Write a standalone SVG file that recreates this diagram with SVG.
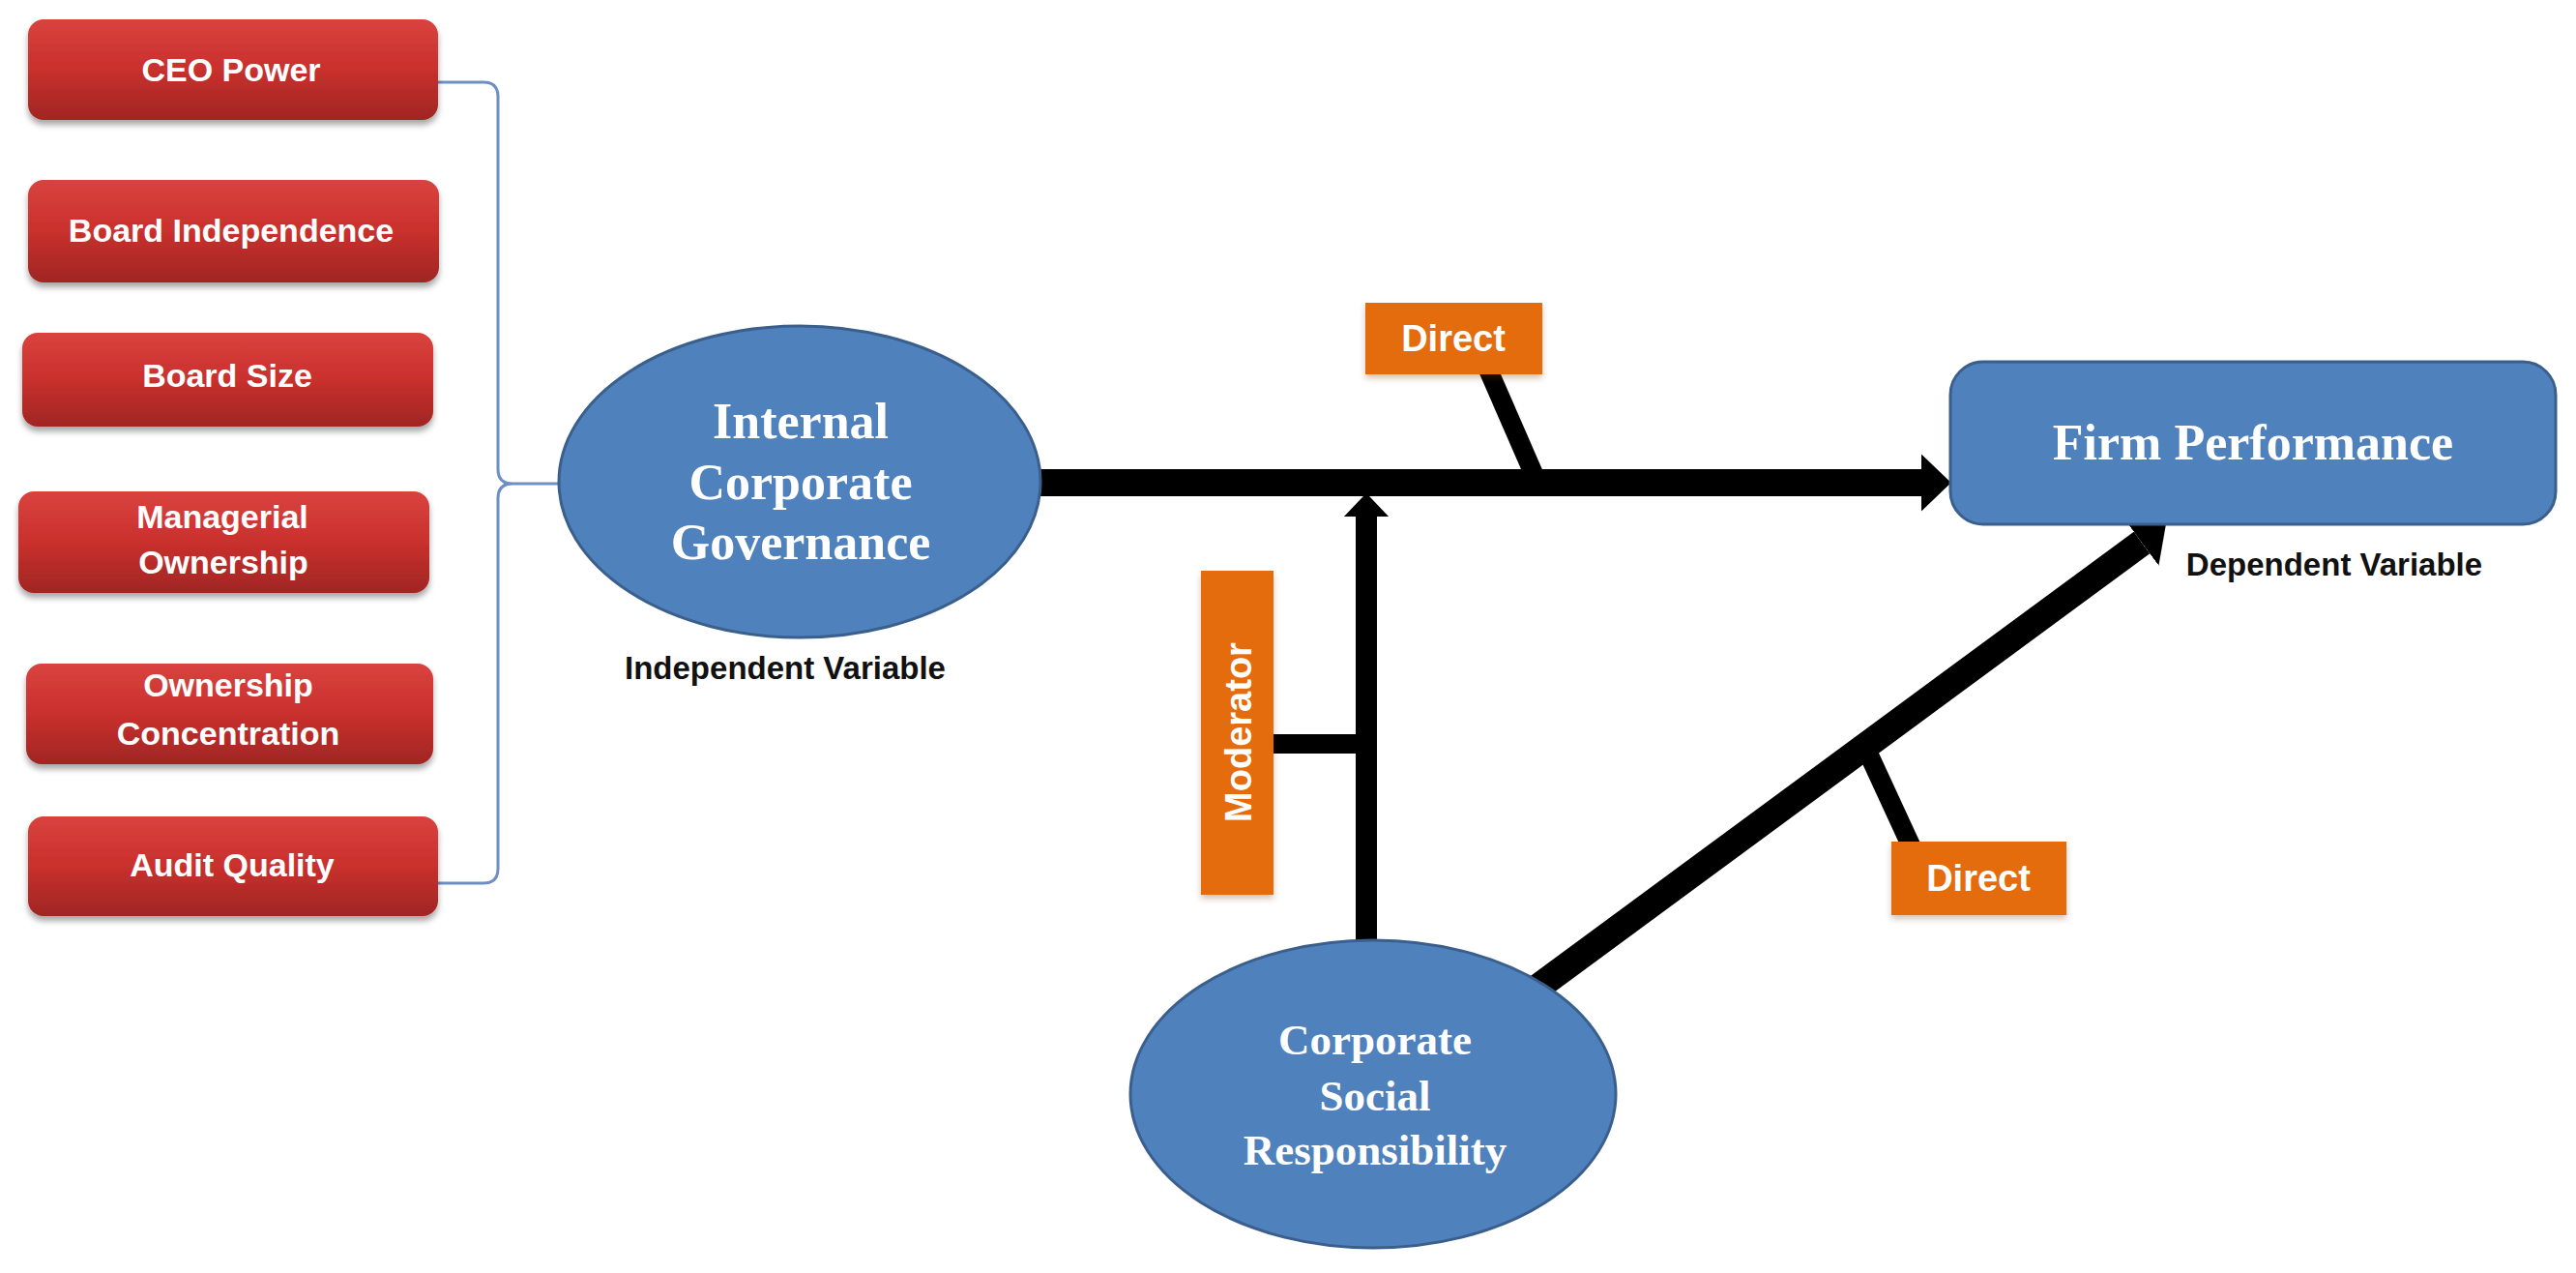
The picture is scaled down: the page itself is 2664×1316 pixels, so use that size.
<svg xmlns="http://www.w3.org/2000/svg" width="2664" height="1316" viewBox="0 0 2664 1316">
<defs>
<linearGradient id="redGrad" x1="0" y1="0" x2="0" y2="1">
<stop offset="0" stop-color="#d9433f"/>
<stop offset="0.5" stop-color="#c9302d"/>
<stop offset="1" stop-color="#a02623"/>
</linearGradient>
<filter id="shadow" x="-10%" y="-20%" width="120%" height="150%">
<feDropShadow dx="0" dy="5" stdDeviation="3" flood-color="#000" flood-opacity="0.35"/>
</filter>
<filter id="soft" x="-20%" y="-20%" width="140%" height="150%">
<feDropShadow dx="0" dy="4" stdDeviation="3" flood-color="#7a3a00" flood-opacity="0.3"/>
</filter>
<marker id="head" markerUnits="strokeWidth" viewBox="0 -1.1 1.1 2.2" markerWidth="1.1" markerHeight="2.2" refX="0" refY="0" orient="auto">
<path d="M0,-1.05 L1.1,0 L0,1.05 Z" fill="#000"/>
</marker>
</defs>
<style>
.red{fill:url(#redGrad);filter:url(#shadow)}
.rt{font-family:"Liberation Sans",Arial,sans-serif;font-weight:bold;font-size:34px;fill:#fff;text-anchor:middle}
.blue{fill:#4f81bd;stroke:#3a5f8c;stroke-width:3}
.st{font-family:"Liberation Serif","Times New Roman",serif;font-weight:bold;fill:#fff;text-anchor:middle}
.orange{fill:#e46c0a;filter:url(#soft)}
.ot{font-family:"Liberation Sans",Arial,sans-serif;font-weight:bold;font-size:38px;fill:#fff;text-anchor:middle}
.lbl{font-family:"Liberation Sans",Arial,sans-serif;font-weight:bold;font-size:33px;fill:#111;text-anchor:middle}
.conn{stroke:#000;fill:none;stroke-linecap:butt}
.brace{stroke:#6d8fc4;stroke-width:3;fill:none}
</style>
<rect width="2664" height="1316" fill="#ffffff"/>

<g id="connectors">
<path class="brace" d="M453,85 H500 Q515,85 515,100 V485 Q515,500 530,500 H580 M530,500 Q515,500 515,515 V898 Q515,913 500,913 H453"/>
<line class="conn" x1="1070" y1="499" x2="1987" y2="499" stroke-width="28" marker-end="url(#head)"/>
<line class="conn" x1="1413" y1="990" x2="1413" y2="534" stroke-width="22" marker-end="url(#head)"/>
<line class="conn" x1="1317" y1="769" x2="1413" y2="769" stroke-width="20"/>
<line class="conn" x1="1590" y1="1021" x2="2215" y2="561" stroke-width="28" marker-end="url(#head)"/>
<line class="conn" x1="1539" y1="382" x2="1590" y2="499" stroke-width="20"/>
<line class="conn" x1="1977" y1="876" x2="1929" y2="772" stroke-width="20"/>
</g>

<g id="ceo-power"><rect class="red" x="29" y="20" width="424" height="104" rx="16"/><text class="rt" x="239" y="84">CEO Power</text></g>
<g id="board-independence"><rect class="red" x="29" y="186" width="425" height="106" rx="16"/><text class="rt" x="239" y="250">Board Independence</text></g>
<g id="board-size"><rect class="red" x="23" y="344" width="425" height="97" rx="16"/><text class="rt" x="235" y="400">Board Size</text></g>
<g id="managerial-ownership"><rect class="red" x="19" y="508" width="425" height="105" rx="16"/><text class="rt" x="230" y="546">Managerial</text><text class="rt" x="231" y="593">Ownership</text></g>
<g id="ownership-concentration"><rect class="red" x="27" y="686" width="421" height="104" rx="16"/><text class="rt" x="236" y="720">Ownership</text><text class="rt" x="236" y="770">Concentration</text></g>
<g id="audit-quality"><rect class="red" x="29" y="844" width="424" height="103" rx="16"/><text class="rt" x="240" y="906">Audit Quality</text></g>

<g id="internal-corporate-governance">
<ellipse class="blue" cx="827" cy="498" rx="249" ry="161"/>
<text class="st" x="828" y="453" font-size="52">Internal</text>
<text class="st" x="828" y="516" font-size="52">Corporate</text>
<text class="st" x="828" y="578" font-size="52">Governance</text>
</g>
<g id="independent-variable-label"><text class="lbl" x="812" y="702">Independent Variable</text></g>

<g id="firm-performance">
<rect class="blue" x="2017" y="374" width="626" height="168" rx="34"/>
<text class="st" x="2330" y="475" font-size="52">Firm Performance</text>
</g>
<g id="dependent-variable-label"><text class="lbl" x="2414" y="595">Dependent Variable</text></g>

<g id="csr">
<ellipse class="blue" cx="1420" cy="1131" rx="251" ry="159"/>
<text class="st" x="1422" y="1090" font-size="45">Corporate</text>
<text class="st" x="1422" y="1148" font-size="45">Social</text>
<text class="st" x="1422" y="1204" font-size="45">Responsibility</text>
</g>

<g id="direct-top"><rect class="orange" x="1412" y="313" width="183" height="74"/><text class="ot" x="1503" y="363">Direct</text></g>
<g id="direct-bottom"><rect class="orange" x="1956" y="870" width="181" height="76"/><text class="ot" x="2046" y="921">Direct</text></g>
<g id="moderator"><rect class="orange" x="1242" y="590" width="75" height="335"/><text class="ot" font-size="37" transform="translate(1294,757) rotate(-90)" x="0" y="0">Moderator</text></g>
</svg>
